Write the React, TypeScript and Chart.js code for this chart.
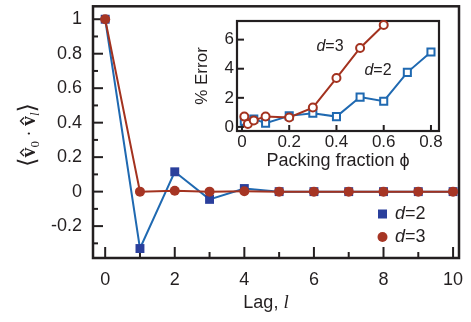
import { useEffect, useRef } from 'react';
import { Chart, registerables } from 'chart.js';
Chart.register(...registerables);

// ---- main panel data ----
const LAGS = [0, 1, 2, 3, 4, 5, 6, 7, 8, 9, 10];
const CORR_D2 = [1, -0.33, 0.115, -0.045, 0.018, 0, 0, 0, 0, 0, 0];
const CORR_D3 = [1, 0, 0.005, 0, 0.002, 0, 0, 0, 0, 0, 0];
const X_MAJOR = [0, 2, 4, 6, 8, 10];
const X_MINOR = [1, 3, 5, 7, 9];
const Y_MAJOR = [-0.2, 0, 0.2, 0.4, 0.6, 0.8, 1];
const Y_MINOR = [-0.3, -0.1, 0.1, 0.3, 0.5, 0.7, 0.9];
const LEGEND_LABELS = ['2', '3'];

// ---- inset data ----
const PHI_D2 = [0.01, 0.05, 0.1, 0.2, 0.3, 0.4, 0.5, 0.6, 0.7, 0.8];
const ERR_D2 = [0.4, 0.55, 0.25, 0.76, 0.94, 0.71, 2.05, 1.77, 3.75, 5.15];
const PHI_D3 = [0.01, 0.025, 0.05, 0.1, 0.2, 0.3, 0.4, 0.5, 0.6];
const ERR_D3 = [0.71, 0.2, 0.45, 0.72, 0.65, 1.33, 3.36, 5.43, 7.0];
const INSET_X_TICKS = [0, 0.2, 0.4, 0.6, 0.8];
const INSET_Y_TICKS = [0, 2, 4, 6];

const RED = '#a3321f';
const RED_FILL = '#a63524';
const BLUE = '#1f69b1';
const NAVY = '#2a3f9c';
const INK = '#231f20';
const SANS = '"Liberation Sans", Arial, Helvetica, sans-serif';
const SERIF = '"Liberation Serif", "DejaVu Serif", serif';

const fmt = (v: any) => String(Number(v));

function line(ctx: CanvasRenderingContext2D, x1: number, y1: number, x2: number, y2: number) {
  ctx.beginPath();
  ctx.moveTo(x1, y1);
  ctx.lineTo(x2, y2);
  ctx.stroke();
}

function drawMixed(ctx: CanvasRenderingContext2D, parts: { t: string; f: string }[], cx: number, cy: number) {
  let total = 0;
  const ws = parts.map((p) => {
    ctx.font = p.f;
    const w = ctx.measureText(p.t).width;
    total += w;
    return w;
  });
  let x = cx - total / 2;
  ctx.textAlign = 'left';
  ctx.textBaseline = 'middle';
  parts.forEach((p, i) => {
    ctx.font = p.f;
    ctx.fillText(p.t, x, cy);
    x += ws[i];
  });
}

const zeroPad = (s: any) => {
  s.paddingTop = 0;
  s.paddingBottom = 0;
  s.paddingLeft = 0;
  s.paddingRight = 0;
};

const mainDecor = {
  id: 'mainDecor',
  beforeDatasetsDraw(chart: any) {
    const { ctx, chartArea, scales } = chart;
    const { left, right, top, bottom } = chartArea;
    const x = scales.x;
    const y = scales.y;
    ctx.save();
    ctx.strokeStyle = INK;
    ctx.lineWidth = 2;
    X_MAJOR.forEach((v) => { const p = x.getPixelForValue(v); line(ctx, p, bottom, p, bottom - 11); });
    X_MINOR.forEach((v) => { const p = x.getPixelForValue(v); line(ctx, p, bottom, p, bottom - 6); });
    Y_MAJOR.forEach((v) => { const p = y.getPixelForValue(v); line(ctx, left, p, left + 10, p); });
    Y_MINOR.forEach((v) => { const p = y.getPixelForValue(v); line(ctx, left, p, left + 5, p); });
    ctx.lineWidth = 2.5;
    ctx.strokeRect(left, top, right - left, bottom - top);
    ctx.restore();
  },
  afterDraw(chart: any) {
    const { ctx } = chart;
    ctx.save();
    ctx.fillStyle = INK;
    // x title
    drawMixed(ctx, [
      { t: 'Lag, ', f: `18px ${SANS}` },
      { t: 'l', f: `italic 19px ${SERIF}` },
    ], 266, 303);
    // y title, rotated
    ctx.translate(35, 135);
    ctx.rotate(-Math.PI / 2);
    const parts = [
      { t: '⟨', f: `24px "DejaVu Sans", sans-serif`, dy: 0, hat: false },
      { t: 'v', f: `bold 20px ${SERIF}`, dy: 0, hat: true },
      { t: '0', f: `13px ${SERIF}`, dy: 4, hat: false },
      { t: ' · ', f: `18px ${SERIF}`, dy: 0, hat: false },
      { t: 'v', f: `bold 20px ${SERIF}`, dy: 0, hat: true },
      { t: 'l', f: `italic 13px ${SERIF}`, dy: 4, hat: false },
      { t: '⟩', f: `24px "DejaVu Sans", sans-serif`, dy: 0, hat: false },
    ];
    let total = 0;
    const ws = parts.map((p) => { ctx.font = p.f; const w = ctx.measureText(p.t).width; total += w; return w; });
    let px = -total / 2;
    ctx.textAlign = 'left';
    ctx.textBaseline = 'alphabetic';
    ctx.strokeStyle = INK;
    ctx.lineWidth = 1.3;
    parts.forEach((p, i) => {
      ctx.font = p.f;
      ctx.fillText(p.t, px, p.dy);
      if (p.hat) {
        const w = ws[i];
        ctx.beginPath();
        ctx.moveTo(px + 1.5, -11);
        ctx.lineTo(px + w / 2, -14.5);
        ctx.lineTo(px + w - 1.5, -11);
        ctx.stroke();
      }
      px += ws[i];
    });
    ctx.restore();

    // legend
    ctx.save();
    const items = [
      { label: LEGEND_LABELS[0], style: 'rect', color: NAVY, y: 214 },
      { label: LEGEND_LABELS[1], style: 'circle', color: RED_FILL, y: 237 },
    ];
    items.forEach((it) => {
      ctx.fillStyle = it.color;
      if (it.style === 'rect') ctx.fillRect(378, it.y - 4.5, 9, 9);
      else { ctx.beginPath(); ctx.arc(382.5, it.y, 5, 0, Math.PI * 2); ctx.fill(); }
      ctx.fillStyle = INK;
      ctx.textAlign = 'left';
      ctx.textBaseline = 'middle';
      ctx.font = `italic 18px ${SANS}`;
      ctx.fillText('d', 395, it.y);
      const w = ctx.measureText('d').width;
      ctx.font = `18px ${SANS}`;
      ctx.fillText('=' + it.label, 395 + w, it.y);
    });
    ctx.restore();
  },
};

const insetDecor = {
  id: 'insetDecor',
  beforeDatasetsDraw(chart: any) {
    const { ctx, chartArea, scales } = chart;
    const { left, right, top, bottom } = chartArea;
    ctx.save();
    ctx.strokeStyle = INK;
    ctx.lineWidth = 2;
    INSET_X_TICKS.forEach((v) => { const p = scales.x.getPixelForValue(v); line(ctx, p, bottom, p, bottom - 6); });
    INSET_Y_TICKS.forEach((v) => { const p = scales.y.getPixelForValue(v); line(ctx, left, p, left + 7, p); });
    ctx.lineWidth = 2.2;
    ctx.strokeRect(left, top, right - left, bottom - top);
    ctx.restore();
  },
  afterDraw(chart: any) {
    const { ctx, chartArea } = chart;
    ctx.save();
    ctx.fillStyle = INK;
    drawMixed(ctx, [{ t: 'Packing fraction ϕ', f: `18px ${SANS}` }], (chartArea.left + chartArea.right) / 2, 153);
    drawMixed(ctx, [{ t: 'd', f: `italic 16px ${SANS}` }, { t: '=3', f: `16px ${SANS}` }], 140, 39);
    drawMixed(ctx, [{ t: 'd', f: `italic 16px ${SANS}` }, { t: '=2', f: `16px ${SANS}` }], 188, 63);
    ctx.translate(12, (chartArea.top + chartArea.bottom) / 2);
    ctx.rotate(-Math.PI / 2);
    drawMixed(ctx, [{ t: '% Error', f: `17px ${SANS}` }], 0, 0);
    ctx.restore();
  },
};

export default function App() {
  const mainRef = useRef<HTMLCanvasElement>(null);
  const insetRef = useRef<HTMLCanvasElement>(null);

  useEffect(() => {
    const main = new Chart(mainRef.current!, {
      type: 'line',
      data: {
        datasets: [
          {
            label: 'd=3',
            data: LAGS.map((l, i) => ({ x: l, y: CORR_D3[i] })),
            borderColor: RED,
            borderWidth: 2,
            pointStyle: 'circle',
            pointRadius: 5,
            pointBackgroundColor: RED_FILL,
            pointBorderColor: RED_FILL,
            pointBorderWidth: 0,
            clip: false as any,
          },
          {
            label: 'd=2',
            data: LAGS.map((l, i) => ({ x: l, y: CORR_D2[i] })),
            borderColor: BLUE,
            borderWidth: 2,
            pointStyle: 'rect',
            pointRadius: 6.3,
            pointBackgroundColor: NAVY,
            pointBorderColor: NAVY,
            pointBorderWidth: 0,
            clip: false as any,
          },
        ],
      },
      options: {
        responsive: false,
        animation: false,
        events: [],
        layout: { padding: { left: 0, right: 12, top: 4, bottom: 0 } },
        plugins: { legend: { display: false }, tooltip: { enabled: false } },
        scales: {
          x: {
            type: 'linear',
            min: -0.35,
            max: 10.17,
            grid: { display: false, drawTicks: false },
            border: { display: false },
            afterBuildTicks: (s: any) => { s.ticks = X_MAJOR.map((v) => ({ value: v })); },
            afterFit: (s: any) => { s.height = 64; zeroPad(s); },
            ticks: { color: INK, font: { family: SANS, size: 18 }, padding: 11, maxRotation: 0, autoSkip: false, callback: fmt },
          },
          y: {
            type: 'linear',
            min: -0.385,
            max: 1.075,
            grid: { display: false, drawTicks: false },
            border: { display: false },
            afterBuildTicks: (s: any) => { s.ticks = Y_MAJOR.map((v) => ({ value: v })); },
            afterFit: (s: any) => { s.width = 93; zeroPad(s); },
            ticks: { color: INK, font: { family: SANS, size: 18 }, padding: 11, autoSkip: false, callback: fmt },
          },
        },
      },
      plugins: [mainDecor],
    });

    const inset = new Chart(insetRef.current!, {
      type: 'line',
      data: {
        datasets: [
          {
            label: 'd=3',
            data: PHI_D3.map((p, i) => ({ x: p, y: ERR_D3[i] })),
            borderColor: RED,
            borderWidth: 2,
            pointStyle: 'circle',
            pointRadius: 4,
            pointBackgroundColor: '#fff',
            pointBorderColor: RED,
            pointBorderWidth: 2,
            clip: false as any,
          },
          {
            label: 'd=2',
            data: PHI_D2.map((p, i) => ({ x: p, y: ERR_D2[i] })),
            borderColor: BLUE,
            borderWidth: 2,
            pointStyle: 'rect',
            pointRadius: 5,
            pointBackgroundColor: '#fff',
            pointBorderColor: BLUE,
            pointBorderWidth: 2,
            clip: false as any,
          },
        ],
      },
      options: {
        responsive: false,
        animation: false,
        events: [],
        layout: { padding: { left: 0, right: 7, top: 13, bottom: 0 } },
        plugins: { legend: { display: false }, tooltip: { enabled: false } },
        scales: {
          x: {
            type: 'linear',
            min: -0.021,
            max: 0.834,
            grid: { display: false, drawTicks: false },
            border: { display: false },
            afterBuildTicks: (s: any) => { s.ticks = INSET_X_TICKS.map((v) => ({ value: v })); },
            afterFit: (s: any) => { s.height = 41; zeroPad(s); },
            ticks: { color: INK, font: { family: SANS, size: 17 }, padding: 1, maxRotation: 0, autoSkip: false, callback: fmt },
          },
          y: {
            type: 'linear',
            min: -0.28,
            max: 7.28,
            grid: { display: false, drawTicks: false },
            border: { display: false },
            afterBuildTicks: (s: any) => { s.ticks = INSET_Y_TICKS.map((v) => ({ value: v })); },
            afterFit: (s: any) => { s.width = 47; zeroPad(s); },
            ticks: { color: INK, font: { family: SANS, size: 17 }, padding: 3, autoSkip: false, callback: fmt },
          },
        },
      },
      plugins: [insetDecor],
    });

    return () => {
      main.destroy();
      inset.destroy();
    };
  }, []);

  return (
    <div style={{ position: 'fixed', left: 0, top: 0, width: 471, height: 322, background: '#fff' }}>
      <canvas ref={mainRef} width={471} height={322} style={{ position: 'absolute', left: 0, top: 0 }} />
      <canvas ref={insetRef} width={256} height={164} style={{ position: 'absolute', left: 190, top: 8 }} />
    </div>
  );
}
